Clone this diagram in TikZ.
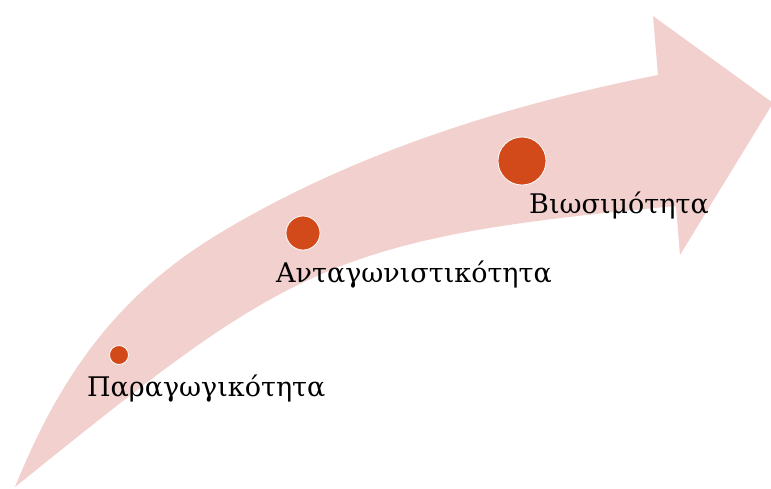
\documentclass[tikz,border=0pt]{standalone}
\usepackage{fontspec}
\setmainfont{DejaVu Serif}
\definecolor{bandpink}{RGB}{241,208,205}
\definecolor{dotorange}{RGB}{210,74,26}
\begin{document}
\begin{tikzpicture}[
    x=1pt, y=-1pt,
    dot/.style={circle, fill=dotorange, draw=white, line width=0.8pt, inner sep=0pt},
    stage/.style={anchor=base west, inner sep=0pt, font=\fontsize{27}{32}\selectfont}
]
\useasboundingbox (0,0) rectangle (771,488);
% curved arrow
\begin{scope}
\clip (0,0) rectangle (771,488);
\fill[bandpink] (15,487) .. controls (60,376) and (117,295) .. (220,233)
    .. controls (353,153) and (506,105) .. (658,75)
    -- (653,16) -- (773,103) -- (680,255) -- (676,206)
    .. controls (327,238) and (288,267) .. (15,487)
    -- cycle;
\end{scope}
% dots
\node[dot, minimum size=19pt] (prod) at (119,355) {};
\node[dot, minimum size=34pt] (comp) at (303,233) {};
\node[dot, minimum size=48pt] (sust) at (522,161) {};
% labels
\node[stage] (prodlabel) at (87,396) {Παραγωγικότητα};
\node[stage] (complabel) at (276,282) {Ανταγωνιστικότητα};
\node[stage] (sustlabel) at (529,213) {Βιωσιμότητα};
\end{tikzpicture}
\end{document}
